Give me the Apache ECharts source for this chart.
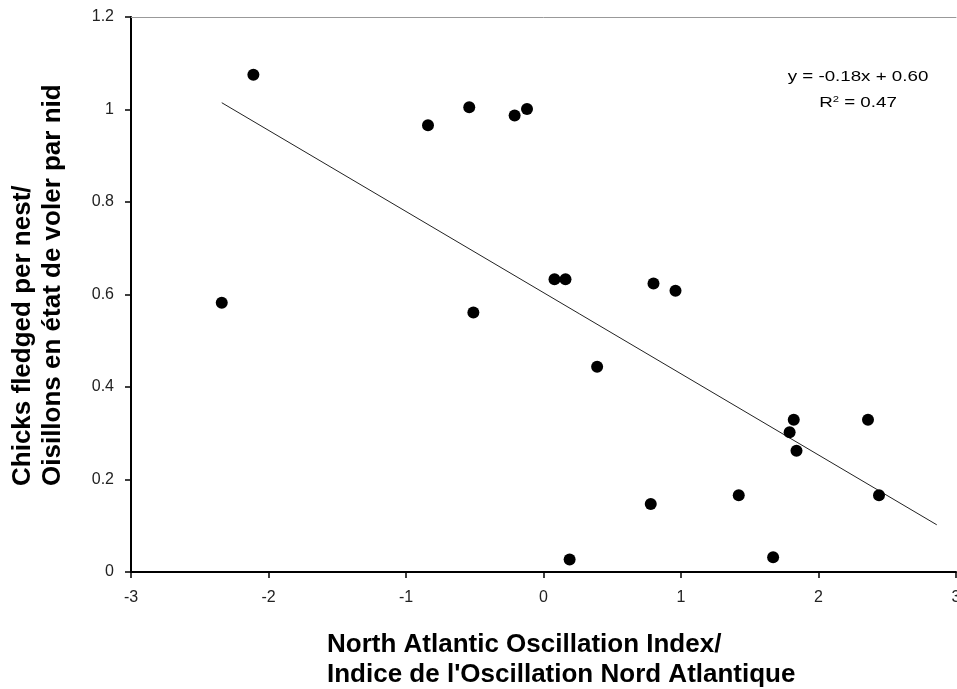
<!DOCTYPE html>
<html>
<head>
<meta charset="utf-8">
<script src="https://cdn.jsdelivr.net/npm/echarts@6/dist/echarts.min.js"></script>
<style>
  html, body { margin: 0; padding: 0; background: #fff; }
  #chart { width: 957px; height: 689px; }
</style>
</head>
<body>
<div id="chart"></div>
<script>
// NAO index (x) and chicks fledged per nest (y)
const naoIndex = [-2.11, -2.34, -0.84, -0.54, -0.21, -0.12, -0.51, 0.08, 0.16, 0.80,
  0.96, 0.39, 0.78, 0.19, 1.42, 1.67, 1.82, 1.79, 1.84, 2.36, 2.44]
const chicksPerNest = [1.075, 0.582, 0.966, 1.005, 0.987, 1.001, 0.561, 0.633, 0.633, 0.624,
  0.608, 0.444, 0.147, 0.027, 0.166, 0.032, 0.329, 0.302, 0.262, 0.329, 0.166]

// linear trendline as drawn on the chart
const trendX = [-2.34, 2.86]
const trendSlope = -0.1755
const trendIntercept = 0.604

const xTicks = ['-3', '-2', '-1', '0', '1', '2', '3']
const yTicks = ['0', '0.2', '0.4', '0.6', '0.8', '1', '1.2']

const points = naoIndex.map((x, i) => [x, chicksPerNest[i]])
const trend = trendX.map((x) => [x, trendSlope * x + trendIntercept])

const chart = echarts.init(document.getElementById('chart'))
const labelFont = 'Liberation Sans, Arial, sans-serif'

const option = {
  backgroundColor: '#fff',
  animation: false,
  grid: { left: 131, right: 1, top: 17, bottom: 117, outerBoundsMode: 'none', containLabel: false },
  xAxis: [
    {
      type: 'value',
      min: -3,
      max: 3,
      interval: 1,
      splitLine: { show: false },
      axisLine: { onZero: false, lineStyle: { color: '#000', width: 2 } },
      axisTick: { length: 6, lineStyle: { color: '#000', width: 1.5 } },
      axisLabel: {
        margin: 18,
        color: '#222',
        fontSize: 16,
        fontFamily: labelFont,
        formatter: (v) => xTicks[Math.round(v) + 3],
      },
    },
    {
      type: 'value',
      position: 'top',
      min: -3,
      max: 3,
      axisLine: { show: true, onZero: false, lineStyle: { color: '#999', width: 1 } },
      axisTick: { show: false },
      axisLabel: { show: false },
      splitLine: { show: false },
    },
  ],
  yAxis: {
    type: 'value',
    min: 0,
    max: 1.2,
    interval: 0.2,
    splitLine: { show: false },
    axisLine: { show: true, onZero: false, lineStyle: { color: '#000', width: 2 } },
    axisTick: { show: true, length: 6, lineStyle: { color: '#000', width: 1.5 } },
    axisLabel: {
      margin: 17,
      color: '#222',
      fontSize: 16,
      fontFamily: labelFont,
      formatter: (v) => yTicks[Math.round(v * 5)],
    },
  },
  graphic: [
    {
      type: 'text',
      x: 327,
      y: 630,
      style: {
        text: 'North Atlantic Oscillation Index/\nIndice de l\'Oscillation Nord Atlantique',
        font: 'bold 26px ' + labelFont,
        fill: '#000',
        align: 'left',
        verticalAlign: 'top',
        lineHeight: 30,
      },
    },
    {
      type: 'text',
      x: 8,
      y: 486,
      rotation: Math.PI / 2,
      style: {
        text: 'Chicks fledged per nest/\nOisillons en état de voler par nid',
        font: 'bold 26px ' + labelFont,
        fill: '#000',
        align: 'left',
        verticalAlign: 'top',
        lineHeight: 30,
      },
    },
    {
      type: 'text',
      x: 858,
      y: 77,
      scaleX: 1.25,
      style: {
        text: 'y = -0.18x + 0.60',
        font: '15px ' + labelFont,
        fill: '#000',
        align: 'center',
        verticalAlign: 'middle',
      },
    },
    {
      type: 'text',
      x: 858,
      y: 103,
      scaleX: 1.25,
      style: {
        text: '{b|R}{s|2}{b| = 0.47}',
        font: '15px ' + labelFont,
        fill: '#000',
        align: 'center',
        verticalAlign: 'middle',
        rich: {
          b: { font: '15px ' + labelFont, fill: '#000' },
          s: { font: '9px ' + labelFont, fill: '#000', verticalAlign: 'top', padding: [0, 0, 7, 0] },
        },
      },
    },
  ],
  series: [
    {
      type: 'line',
      data: trend,
      symbol: 'none',
      lineStyle: { color: '#222', width: 1 },
      z: 2,
    },
    {
      type: 'scatter',
      data: points,
      symbol: 'circle',
      symbolSize: 12,
      itemStyle: { color: '#000', opacity: 1 },
      z: 3,
    },
  ],
}

chart.setOption(option)
</script>
</body>
</html>
